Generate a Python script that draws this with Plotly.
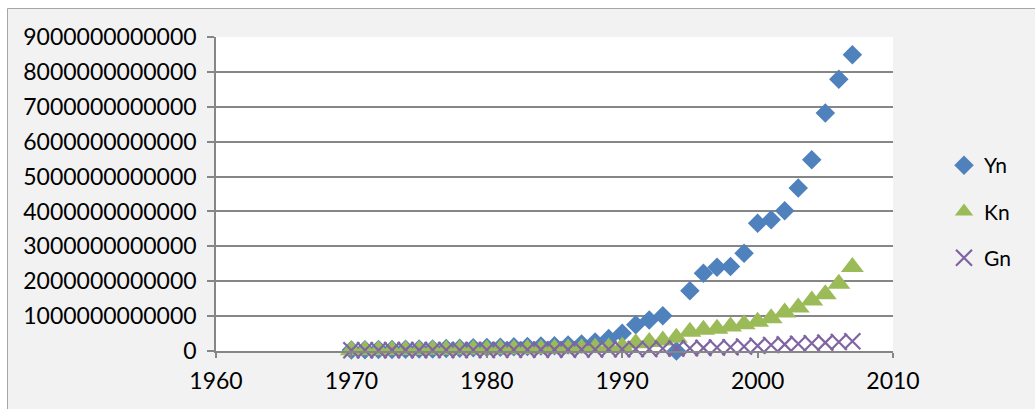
import plotly.graph_objects as go

# Annual series, in units of 1e12
UNIT = 1e12
years = list(range(1970, 2008))

yn = [0.03, 0.035, 0.04, 0.045, 0.05, 0.055, 0.06, 0.07, 0.08, 0.09,
      0.10, 0.11, 0.12, 0.13, 0.14, 0.15, 0.17, 0.20, 0.26, 0.36,
      0.51, 0.75, 0.89, 1.01, 0.0, 1.73, 2.23, 2.40, 2.42, 2.80,
      3.66, 3.76, 4.02, 4.67, 5.48, 6.82, 7.79, 8.49]

kn = [0.02, 0.02, 0.025, 0.025, 0.03, 0.03, 0.035, 0.035, 0.04, 0.04,
      0.045, 0.05, 0.05, 0.055, 0.06, 0.065, 0.07, 0.08, 0.09, 0.10,
      0.13, 0.22, 0.26, 0.30, 0.38, 0.55, 0.61, 0.64, 0.70, 0.77,
      0.84, 0.94, 1.10, 1.25, 1.45, 1.63, 1.93, 2.41]

gn = [0.02, 0.02, 0.02, 0.025, 0.025, 0.025, 0.03, 0.03, 0.03, 0.03,
      0.03, 0.035, 0.035, 0.035, 0.04, 0.04, 0.04, 0.045, 0.045, 0.05,
      0.05, 0.06, 0.06, 0.07, 0.07, 0.08, 0.09, 0.10, 0.11, 0.13,
      0.15, 0.17, 0.19, 0.21, 0.22, 0.24, 0.26, 0.28]

y_ticks = [i * UNIT for i in range(10)]
y_tick_text = ["0", "1000000000000", "2000000000000", "3000000000000",
               "4000000000000", "5000000000000", "6000000000000",
               "7000000000000", "8000000000000", "9000000000000"]
x_ticks = [1960, 1970, 1980, 1990, 2000, 2010]

BLUE = "#4f81bd"
GREEN = "#9bbb59"
PURPLE = "#8064a2"
FONT = "Lato"

fig = go.Figure()
fig.add_trace(go.Scatter(
    x=years, y=[v * UNIT for v in yn], name="Yn", mode="markers",
    cliponaxis=False, legendgroup="yn",
    marker=dict(symbol="diamond", size=15, color=BLUE, line=dict(width=0)),
))
fig.add_trace(go.Scatter(
    x=years, y=[v * UNIT for v in kn], name="Kn", mode="markers",
    cliponaxis=False, legendgroup="kn",
    marker=dict(symbol="triangle-up", size=20, color=GREEN, line=dict(width=0)),
))
fig.add_trace(go.Scatter(
    x=years, y=[v * UNIT for v in gn], name="Gn", mode="markers",
    cliponaxis=False, legendgroup="gn",
    marker=dict(symbol="x-thin", size=16, color=PURPLE,
                line=dict(width=2.2, color=PURPLE)),
))

L, R, T, B = 216, 142, 37, 58
W, H = 1035, 409
pw, ph = W - L - R, H - T - B

def px_x(p):
    return (p - L) / pw

def px_y(p):
    return (H - B - p) / ph

fig.update_layout(
    width=W, height=H,
    margin=dict(l=L, r=R, t=T, b=B, pad=0),
    paper_bgcolor="white",
    plot_bgcolor="rgba(0,0,0,0)",
    font=dict(family=FONT, size=23, color="#000000"),
    showlegend=True,
    legend=dict(
        x=px_x(944), y=px_y(145), xanchor="left", yanchor="top",
        bgcolor="rgba(0,0,0,0)", font=dict(size=21),
        tracegroupgap=16, itemsizing="trace",
    ),
    shapes=[
        # chart frame
        dict(type="rect", xref="paper", yref="paper", layer="below",
             x0=px_x(7.5), x1=px_x(W + 20), y0=px_y(H + 20), y1=px_y(8.5),
             fillcolor="#f2f2f2", line=dict(color="#a6a6a6", width=1)),
        # plot area
        dict(type="rect", xref="paper", yref="paper", layer="below",
             x0=0, x1=1, y0=0, y1=1, fillcolor="white", line=dict(width=0)),
    ],
    xaxis=dict(
        range=[1960, 2010], tickvals=x_ticks, showgrid=False, zeroline=False,
        showline=True, linecolor="#868686", linewidth=1.5,
        ticks="outside", ticklen=5, tickcolor="#868686", tickwidth=1.5,
        tickfont=dict(size=23), ticklabelstandoff=4,
    ),
    yaxis=dict(
        range=[0, 9 * UNIT], tickvals=y_ticks, ticktext=y_tick_text,
        showgrid=True, gridcolor="#868686", gridwidth=1.5, zeroline=False,
        showline=True, linecolor="#868686", linewidth=1.5,
        ticks="outside", ticklen=7, tickcolor="#868686", tickwidth=1.5,
        tickfont=dict(size=23), ticklabelstandoff=6,
    ),
)

fig.write_html("out.html", config={"displayModeBar": False})
